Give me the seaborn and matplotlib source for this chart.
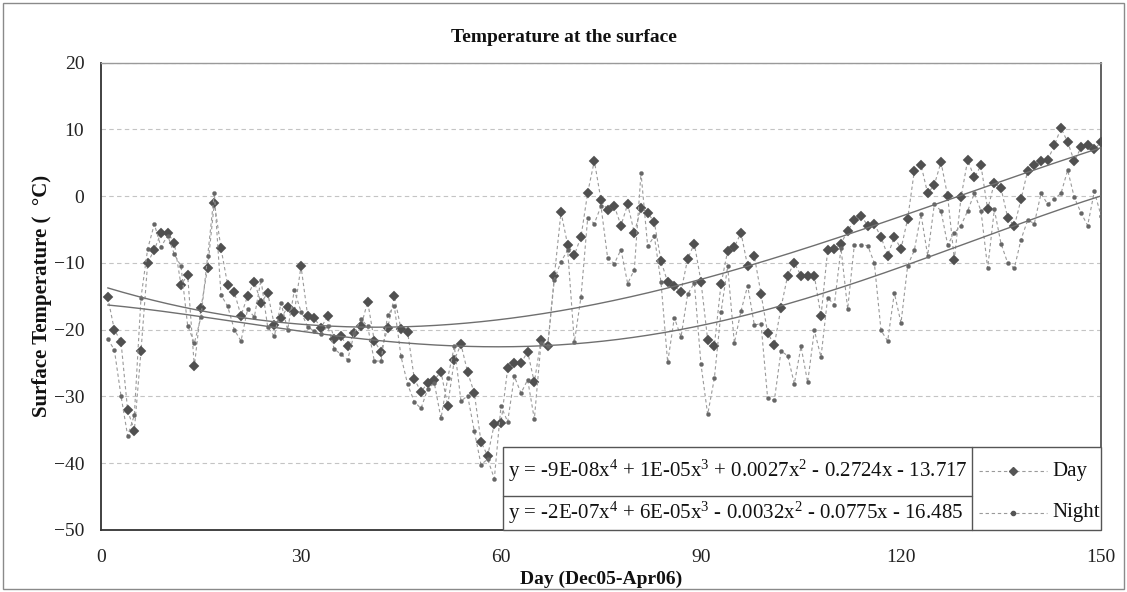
import numpy as np
import pandas as pd
import matplotlib
matplotlib.use("Agg")
import matplotlib.pyplot as plt
from matplotlib.patches import Rectangle
from matplotlib.lines import Line2D
import seaborn as sns

# ---------------- data ----------------
days = list(range(1, 151))

day_temp = [
    -15.1, -20.0, -21.8, -32.1, -35.1, -23.2, -10.0, -8.0, -5.5, -5.5,
    -7.0, -13.3, -11.8, -25.5, -16.7, -10.7, -1.0, -7.8, -13.3, -14.4,
    -17.9, -14.9, -12.8, -16.0, -14.5, -19.3, -18.3, -16.6, -17.4, -10.5,
    -17.9, -18.3, -19.7, -18.0, -21.4, -21.0, -22.5, -20.5, -19.5, -15.8,
    -21.7, -23.3, -19.8, -15.0, -19.9, -20.4, -27.4, -29.3, -28.0, -27.5,
    -26.3, -31.4, -24.5, -22.2, -26.4, -29.5, -36.8, -38.9, -34.1, -34.0,
    -25.8, -25.0, -25.0, -23.3, -27.9, -21.5, -22.5, -12.0, -2.4, -7.3,
    -8.8, -6.1, 0.5, 5.3, -0.6, -2.1, -1.5, -4.4, -1.2, -5.5,
    -1.8, -2.5, -3.9, -9.7, -12.9, -13.5, -14.3, -9.4, -7.1, -12.8,
    -21.5, -22.4, -13.2, -8.2, -7.6, -5.5, -10.5, -9.0, -14.6, -20.5,
    -22.3, -16.7, -11.9, -10.0, -11.9, -11.9, -11.9, -18.0, -8.1, -7.9,
    -7.1, -5.2, -3.6, -2.9, -4.4, -4.2, -6.1, -8.9, -6.1, -7.9,
    -3.4, 3.8, 4.7, 0.4, 1.7, 5.1, 0.0, -9.5, -0.2, 5.4,
    2.8, 4.6, -2.0, 2.0, 1.2, -3.2, -4.5, -0.5, 3.8, 4.6,
    5.2, 5.4, 7.6, 10.2, 8.1, 5.2, 7.3, 7.6, 7.0, 8.1,
]

night_temp = [
    -21.4, -23.0, -29.9, -35.9, -32.8, -15.2, -7.9, -4.2, -7.6, -5.9,
    -8.7, -10.5, -19.4, -22.0, -18.1, -9.0, 0.5, -14.8, -16.5, -20.0,
    -21.7, -16.9, -18.1, -12.5, -19.6, -21.0, -16.0, -20.0, -14.1, -17.3,
    -19.6, -20.2, -20.6, -19.5, -22.9, -23.7, -24.5, -20.5, -18.4, -19.5,
    -24.7, -24.7, -17.8, -16.5, -24.0, -28.2, -30.8, -31.8, -28.9, -28.0,
    -33.3, -27.3, -22.5, -30.7, -29.9, -35.2, -40.2, -39.4, -42.3, -31.4,
    -33.8, -27.0, -29.5, -27.5, -33.4, -22.0, -22.5, -12.5, -9.8, -8.1,
    -21.9, -15.1, -3.3, -4.1, -1.5, -9.3, -10.1, -8.0, -13.1, -11.0,
    3.5, -7.5, -6.0, -12.9, -24.9, -18.2, -21.1, -14.7, -13.0, -25.2,
    -32.7, -27.3, -17.4, -10.5, -22.0, -17.2, -13.4, -19.3, -19.1, -30.3,
    -30.6, -23.2, -23.9, -28.1, -22.5, -27.9, -20.1, -24.1, -15.2, -16.3,
    -7.8, -16.9, -7.3, -7.3, -7.4, -10.0, -20.1, -21.7, -14.5, -19.0,
    -10.4, -8.1, -2.7, -8.9, -1.2, -2.2, -7.3, -5.5, -4.4, -2.2,
    0.4, -2.2, -10.8, -2.0, -7.1, -10.0, -10.8, -6.5, -3.6, -4.1,
    0.4, -1.2, -0.4, 0.4, 3.9, -0.2, -2.5, -4.4, 0.7, -2.9,
]

series_names = ["Day", "Night"]
equations = [
    r"y = -9E-08x$^{\mathrm{4}}$ + 1E-05x$^{\mathrm{3}}$ + 0.0027x$^{\mathrm{2}}$ - 0.2724x - 13.717",
    r"y = -2E-07x$^{\mathrm{4}}$ + 6E-05x$^{\mathrm{3}}$ - 0.0032x$^{\mathrm{2}}$ - 0.0775x - 16.485",
]
x_ticks = [0, 30, 60, 90, 120, 150]
y_ticks = [-50, -40, -30, -20, -10, 0, 10, 20]

title = "Temperature at the surface"
xlabel = "Day (Dec05-Apr06)"
ylabel = "Surface Temperature (  \u00b0C)"

# ---------------- style ----------------
sns.set_style("white")
plt.rcParams["font.family"] = ["Liberation Serif", "DejaVu Serif"]
plt.rcParams["mathtext.fontset"] = "custom"
plt.rcParams["mathtext.rm"] = "Liberation Serif"
plt.rcParams["mathtext.it"] = "Liberation Serif:italic"
plt.rcParams["mathtext.bf"] = "Liberation Serif:bold"

W, H = 1127, 592
fig = plt.figure(figsize=(W / 100, H / 100), dpi=100)
fig.patch.set_facecolor("white")

L, R, T, B = 101, 1101, 62.6, 530
ax = fig.add_axes([L / W, 1 - B / H, (R - L) / W, (B - T) / H])

df = pd.DataFrame({"day": days, "Day": day_temp, "Night": night_temp})

line_col = "#9a9a9a"
sns.lineplot(data=df, x="day", y="Day", ax=ax, color=line_col, linestyle=(0, (3, 2.5)),
             linewidth=0.8, marker="D", markersize=4.8, markerfacecolor="#505050",
             markeredgecolor="#505050", markeredgewidth=0.3, zorder=3)
sns.lineplot(data=df, x="day", y="Night", ax=ax, color=line_col, linestyle=(0, (3, 2.5)),
             linewidth=0.8, marker="o", markersize=3.0, markerfacecolor="#666666",
             markeredgecolor="#666666", markeredgewidth=0.2, zorder=3)

# polynomial (order 4) trend lines, fitted like Excel
xs = np.linspace(1, 150, 400)
for col in series_names:
    coef = np.polyfit(df["day"], df[col], 4)
    sns.lineplot(x=xs, y=np.polyval(coef, xs), ax=ax, color="#6f6f6f",
                 linewidth=1.0, zorder=4)

ax.set_xlim(0, 150)
ax.set_ylim(-50, 20)
ax.set_xticks(x_ticks)
ax.set_yticks(y_ticks)
ax.tick_params(axis="both", direction="out", length=5, width=1, colors="#222222",
               labelsize=14, pad=7)
ax.tick_params(axis="x", pad=9)
ax.yaxis.grid(True, color="#c4c4c4", linestyle=(0, (4, 3)), linewidth=0.8)
ax.xaxis.grid(False)
ax.set_xlabel("")
ax.set_ylabel("")
for s in ["left", "bottom"]:
    ax.spines[s].set_color("#333333")
    ax.spines[s].set_linewidth(1.3)
ax.spines["right"].set_color("#555555")
ax.spines["right"].set_linewidth(1.3)
ax.spines["top"].set_color("#9a9a9a")
ax.spines["top"].set_linewidth(1.0)
ax.tick_params(top=False, right=False)

# ---------------- legend box (Excel style) ----------------
bx0, bx1, bxmid = 0.4017, 1.0, 0.871
by0, by1, bymid = 0.0, 0.1776, 0.0738
kw = dict(transform=ax.transAxes, clip_on=False, zorder=6)
ax.add_patch(Rectangle((bx0, by0), bx1 - bx0, by1 - by0, facecolor="white",
                       edgecolor="#555555", linewidth=1.0, **kw))
ax.add_line(Line2D([bxmid, bxmid], [by0, by1], color="#555555", linewidth=1.0, **kw))
ax.add_line(Line2D([bx0, bxmid], [bymid, bymid], color="#555555", linewidth=1.0, **kw))
row_y = [(by1 + bymid) / 2, (bymid + by0) / 2]
for i in range(2):
    ax.text(bx0 + 0.005, row_y[i], equations[i], transform=ax.transAxes,
            ha="left", va="center", fontsize=15, color="#111111", zorder=7)
    ax.add_line(Line2D([bxmid + 0.007, bxmid + 0.075], [row_y[i]] * 2, color=line_col,
                       linestyle=(0, (3, 2.5)), linewidth=0.8, **kw))
    ax.add_line(Line2D([bxmid + 0.041], [row_y[i]], marker="D" if i == 0 else "o",
                       markersize=4.2 if i == 0 else 3.0, color="#555555",
                       linestyle="none", **kw))
    ax.text(bxmid + 0.08, row_y[i], series_names[i], transform=ax.transAxes,
            ha="left", va="center", fontsize=15, color="#111111", zorder=7)

# ---------------- titles ----------------
fig.text(0.5, 1 - 37 / H, title, ha="center", va="center", fontsize=14,
         fontweight="bold", color="#111111")
fig.text((L + R) / 2 / W, 1 - 579 / H, xlabel, ha="center", va="center",
         fontsize=14, fontweight="bold", color="#111111")
fig.text(42 / W, 1 - ((T + B) / 2) / H, ylabel, ha="center", va="center",
         rotation=90, fontsize=15, fontweight="bold", color="#111111")

# outer chart border
fig.add_artist(Rectangle((3 / W, 3 / H), 1 - 6 / W, 1 - 6 / H, transform=fig.transFigure,
                         facecolor="none", edgecolor="#8a8a8a", linewidth=1.0))

fig.savefig("out.png", dpi=100)
